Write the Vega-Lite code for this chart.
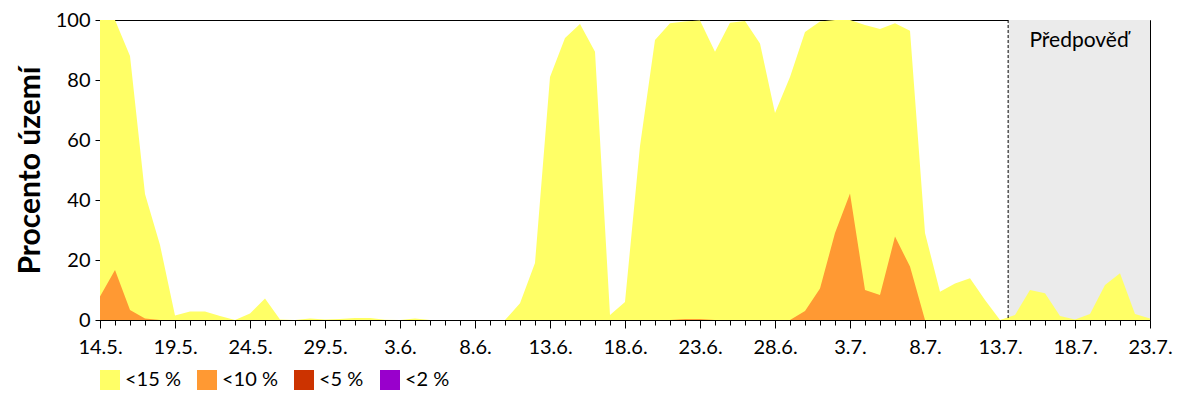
{
  "$schema": "https://vega.github.io/schema/vega-lite/v6.json",
  "width": 1050,
  "height": 300,
  "autosize": "none",
  "padding": {"left": 100, "top": 20, "right": 50, "bottom": 80},
  "background": "white",
  "config": {
    "view": {"stroke": "black", "strokeWidth": 1},
    "font": "Lato",
    "axis": {"domainColor": "black", "tickColor": "black", "labelColor": "black", "titleColor": "black", "grid": false, "labelFont": "Lato", "labelFontSize": 20}
  },
  "datasets": {
    "coverage": [
      {"date": "2019-05-14", "p15": 100, "p10": 7.8, "p5": 0, "p2": 0},
      {"date": "2019-05-15", "p15": 100, "p10": 16.7, "p5": 0, "p2": 0},
      {"date": "2019-05-16", "p15": 88, "p10": 3.3, "p5": 0, "p2": 0},
      {"date": "2019-05-17", "p15": 42, "p10": 0.5, "p5": 0, "p2": 0},
      {"date": "2019-05-18", "p15": 25, "p10": 0, "p5": 0, "p2": 0},
      {"date": "2019-05-19", "p15": 1.5, "p10": 0, "p5": 0, "p2": 0},
      {"date": "2019-05-20", "p15": 2.8, "p10": 0, "p5": 0, "p2": 0},
      {"date": "2019-05-21", "p15": 2.8, "p10": 0, "p5": 0, "p2": 0},
      {"date": "2019-05-22", "p15": 1.3, "p10": 0, "p5": 0, "p2": 0},
      {"date": "2019-05-23", "p15": 0, "p10": 0, "p5": 0, "p2": 0},
      {"date": "2019-05-24", "p15": 2.2, "p10": 0, "p5": 0, "p2": 0},
      {"date": "2019-05-25", "p15": 7.2, "p10": 0, "p5": 0, "p2": 0},
      {"date": "2019-05-26", "p15": 0.2, "p10": 0, "p5": 0, "p2": 0},
      {"date": "2019-05-27", "p15": 0, "p10": 0, "p5": 0, "p2": 0},
      {"date": "2019-05-28", "p15": 0.5, "p10": 0, "p5": 0, "p2": 0},
      {"date": "2019-05-29", "p15": 0.2, "p10": 0, "p5": 0, "p2": 0},
      {"date": "2019-05-30", "p15": 0.3, "p10": 0, "p5": 0, "p2": 0},
      {"date": "2019-05-31", "p15": 0.7, "p10": 0, "p5": 0, "p2": 0},
      {"date": "2019-06-01", "p15": 0.7, "p10": 0, "p5": 0, "p2": 0},
      {"date": "2019-06-02", "p15": 0.1, "p10": 0, "p5": 0, "p2": 0},
      {"date": "2019-06-03", "p15": 0, "p10": 0, "p5": 0, "p2": 0},
      {"date": "2019-06-04", "p15": 0.5, "p10": 0, "p5": 0, "p2": 0},
      {"date": "2019-06-05", "p15": 0, "p10": 0, "p5": 0, "p2": 0},
      {"date": "2019-06-06", "p15": 0, "p10": 0, "p5": 0, "p2": 0},
      {"date": "2019-06-07", "p15": 0, "p10": 0, "p5": 0, "p2": 0},
      {"date": "2019-06-08", "p15": 0, "p10": 0, "p5": 0, "p2": 0},
      {"date": "2019-06-09", "p15": 0, "p10": 0, "p5": 0, "p2": 0},
      {"date": "2019-06-10", "p15": 0, "p10": 0, "p5": 0, "p2": 0},
      {"date": "2019-06-11", "p15": 5.6, "p10": 0, "p5": 0, "p2": 0},
      {"date": "2019-06-12", "p15": 19, "p10": 0, "p5": 0, "p2": 0},
      {"date": "2019-06-13", "p15": 81, "p10": 0, "p5": 0, "p2": 0},
      {"date": "2019-06-14", "p15": 94, "p10": 0, "p5": 0, "p2": 0},
      {"date": "2019-06-15", "p15": 98.7, "p10": 0, "p5": 0, "p2": 0},
      {"date": "2019-06-16", "p15": 89.4, "p10": 0, "p5": 0, "p2": 0},
      {"date": "2019-06-17", "p15": 1.7, "p10": 0, "p5": 0, "p2": 0},
      {"date": "2019-06-18", "p15": 6, "p10": 0, "p5": 0, "p2": 0},
      {"date": "2019-06-19", "p15": 58, "p10": 0, "p5": 0, "p2": 0},
      {"date": "2019-06-20", "p15": 93.3, "p10": 0, "p5": 0, "p2": 0},
      {"date": "2019-06-21", "p15": 98.9, "p10": 0, "p5": 0, "p2": 0},
      {"date": "2019-06-22", "p15": 99.5, "p10": 0.3, "p5": 0, "p2": 0},
      {"date": "2019-06-23", "p15": 99.8, "p10": 0.3, "p5": 0, "p2": 0},
      {"date": "2019-06-24", "p15": 89.4, "p10": 0, "p5": 0, "p2": 0},
      {"date": "2019-06-25", "p15": 99.1, "p10": 0, "p5": 0, "p2": 0},
      {"date": "2019-06-26", "p15": 99.7, "p10": 0, "p5": 0, "p2": 0},
      {"date": "2019-06-27", "p15": 92.2, "p10": 0, "p5": 0, "p2": 0},
      {"date": "2019-06-28", "p15": 69, "p10": 0, "p5": 0, "p2": 0},
      {"date": "2019-06-29", "p15": 81, "p10": 0, "p5": 0, "p2": 0},
      {"date": "2019-06-30", "p15": 96, "p10": 3, "p5": 0, "p2": 0},
      {"date": "2019-07-01", "p15": 99.5, "p10": 10.5, "p5": 0, "p2": 0},
      {"date": "2019-07-02", "p15": 100, "p10": 29, "p5": 0, "p2": 0},
      {"date": "2019-07-03", "p15": 100, "p10": 42.2, "p5": 0, "p2": 0},
      {"date": "2019-07-04", "p15": 98.3, "p10": 10, "p5": 0, "p2": 0},
      {"date": "2019-07-05", "p15": 97, "p10": 8.3, "p5": 0, "p2": 0},
      {"date": "2019-07-06", "p15": 98.9, "p10": 27.8, "p5": 0, "p2": 0},
      {"date": "2019-07-07", "p15": 96.4, "p10": 17.8, "p5": 0, "p2": 0},
      {"date": "2019-07-08", "p15": 29, "p10": 0, "p5": 0, "p2": 0},
      {"date": "2019-07-09", "p15": 9.4, "p10": 0, "p5": 0, "p2": 0},
      {"date": "2019-07-10", "p15": 12.2, "p10": 0, "p5": 0, "p2": 0},
      {"date": "2019-07-11", "p15": 13.9, "p10": 0, "p5": 0, "p2": 0},
      {"date": "2019-07-12", "p15": 6.7, "p10": 0, "p5": 0, "p2": 0},
      {"date": "2019-07-13", "p15": 0, "p10": 0, "p5": 0, "p2": 0},
      {"date": "2019-07-14", "p15": 1.7, "p10": 0, "p5": 0, "p2": 0},
      {"date": "2019-07-15", "p15": 10, "p10": 0, "p5": 0, "p2": 0},
      {"date": "2019-07-16", "p15": 8.9, "p10": 0, "p5": 0, "p2": 0},
      {"date": "2019-07-17", "p15": 1.3, "p10": 0, "p5": 0, "p2": 0},
      {"date": "2019-07-18", "p15": 0.2, "p10": 0, "p5": 0, "p2": 0},
      {"date": "2019-07-19", "p15": 2, "p10": 0, "p5": 0, "p2": 0},
      {"date": "2019-07-20", "p15": 11.7, "p10": 0, "p5": 0, "p2": 0},
      {"date": "2019-07-21", "p15": 15.6, "p10": 0, "p5": 0, "p2": 0},
      {"date": "2019-07-22", "p15": 2, "p10": 0, "p5": 0, "p2": 0},
      {"date": "2019-07-23", "p15": 0.5, "p10": 0, "p5": 0, "p2": 0}
    ],
    "forecast": [
      {"start": "2019-07-13T13:00:00Z", "end": "2019-07-23T00:00:00Z", "mid": "2019-07-18T06:30:00Z", "label": "Předpověď"}
    ]
  },
  "layer": [
    {
      "data": {"name": "forecast"},
      "mark": {"type": "rect", "color": "#ebebeb"},
      "encoding": {
        "x": {
          "field": "start", "type": "temporal",
          "scale": {"type": "utc", "domain": [{"year": 2019, "month": 5, "date": 14, "utc": true}, {"year": 2019, "month": 7, "date": 23, "utc": true}], "nice": false},
          "axis": {
            "title": null,
            "tickCount": {"interval": "day", "step": 1},
            "labelExpr": "(round((datum.value - utc(2019,4,14))/86400000) % 5 == 0) ? utcFormat(datum.value, '%-d.%-m.') : ''",
            "tickSize": {"condition": {"test": "round((datum.value - utc(2019,4,14))/86400000) % 5 == 0", "value": 8}, "value": 5},
            "labelOverlap": false,
            "labelFlush": false,
            "labelPadding": 9,
            "domain": true
          }
        },
        "x2": {"field": "end"}
      }
    },
    {
      "data": {"name": "coverage"},
      "mark": {"type": "area", "interpolate": "linear", "opacity": 1},
      "encoding": {
        "x": {"field": "date", "type": "temporal"},
        "y": {
          "field": "p15", "type": "quantitative", "stack": null,
          "scale": {"domain": [0, 100], "nice": false},
          "axis": {"title": "Procento území", "values": [0, 20, 40, 60, 80, 100], "tickSize": 5, "labelPadding": 5, "titleFont": "Lato", "titleFontSize": 30, "titleFontWeight": "bold", "titlePadding": 10}
        },
        "color": {
          "datum": "<15 %", "type": "nominal",
          "scale": {"domain": ["<15 %", "<10 %", "<5 %", "<2 %"], "range": ["#ffff66", "#ff9933", "#cc3300", "#9900cc"]},
          "legend": {"title": null, "orient": "none", "legendX": 0, "legendY": 350, "direction": "horizontal", "symbolType": "square", "symbolSize": 400, "symbolStrokeWidth": 0, "symbolOpacity": 1, "labelFont": "Lato", "labelFontSize": 20, "labelColor": "black", "labelOffset": 5, "columnPadding": 16, "padding": 0}
        }
      }
    },
    {
      "data": {"name": "coverage"},
      "mark": {"type": "area", "interpolate": "linear", "opacity": 1},
      "encoding": {
        "x": {"field": "date", "type": "temporal"},
        "y": {"field": "p10", "type": "quantitative", "stack": null},
        "color": {"datum": "<10 %", "type": "nominal"}
      }
    },
    {
      "data": {"name": "coverage"},
      "mark": {"type": "area", "interpolate": "linear", "opacity": 1},
      "encoding": {
        "x": {"field": "date", "type": "temporal"},
        "y": {"field": "p5", "type": "quantitative", "stack": null},
        "color": {"datum": "<5 %", "type": "nominal"}
      }
    },
    {
      "data": {"name": "coverage"},
      "mark": {"type": "area", "interpolate": "linear", "opacity": 1},
      "encoding": {
        "x": {"field": "date", "type": "temporal"},
        "y": {"field": "p2", "type": "quantitative", "stack": null},
        "color": {"datum": "<2 %", "type": "nominal"}
      }
    },
    {
      "data": {"name": "forecast"},
      "mark": {"type": "rule", "color": "black", "strokeWidth": 1, "strokeDash": [3, 2]},
      "encoding": {"x": {"field": "start", "type": "temporal"}}
    },
    {
      "data": {"name": "forecast"},
      "mark": {"type": "text", "font": "Lato", "fontSize": 21, "color": "black", "align": "center", "baseline": "middle"},
      "encoding": {
        "x": {"field": "mid", "type": "temporal"},
        "y": {"datum": 93},
        "text": {"field": "label"}
      }
    }
  ]
}
